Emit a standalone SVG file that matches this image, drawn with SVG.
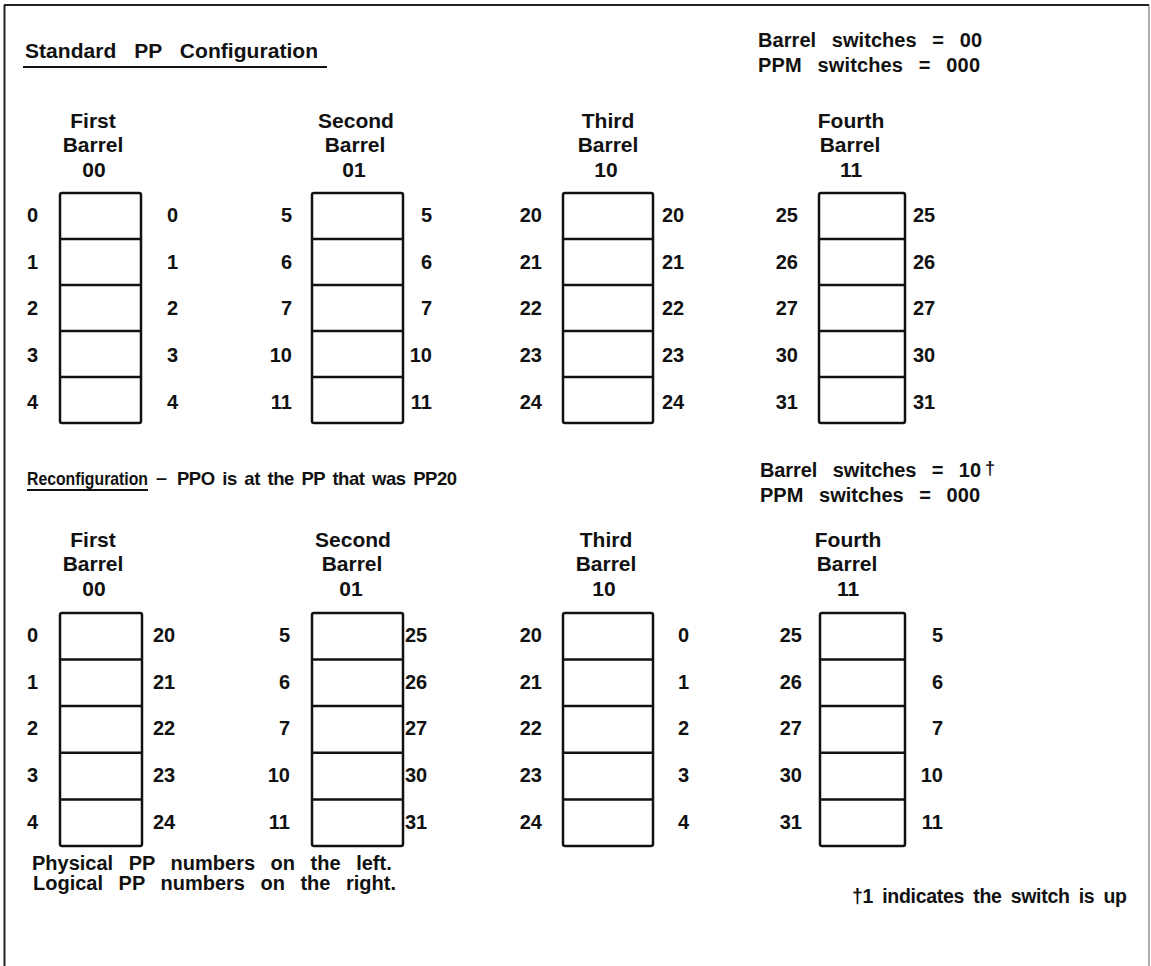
<svg xmlns="http://www.w3.org/2000/svg" width="1151" height="966" viewBox="0 0 1151 966">
<style>
text{font-family:"Liberation Sans",Arial,sans-serif;font-weight:bold;fill:#111}
.t{font-size:21px;word-spacing:12px}
.s{font-size:20px;word-spacing:10px}
.r{font-size:18.5px;word-spacing:3px}
.h{font-size:21px;text-anchor:middle}
.n{font-size:20px}
.e{text-anchor:end}
.note{font-size:20px;word-spacing:10px}
.box{fill:#fff;stroke:#111;stroke-width:2.5}
.div{stroke:#111;stroke-width:2.5}
.ul{stroke:#111;stroke-width:2}
</style>
<rect width="1151" height="966" fill="#fff"/>
<g id="frame" fill="none">
<line x1="4.5" y1="5" x2="4.5" y2="966" stroke="#222" stroke-width="2"/>
<line x1="4" y1="5" x2="1149" y2="5" stroke="#222" stroke-width="2"/>
<line x1="1149" y1="5" x2="1149" y2="966" stroke="#777" stroke-width="1.2"/>
</g>

<g id="top-header">
<text class="t" x="25" y="58" textLength="293" lengthAdjust="spacing">Standard PP Configuration</text>
<line class="ul" x1="23" y1="67" x2="327" y2="67"/>
<text class="s" x="758" y="47" textLength="224" lengthAdjust="spacing">Barrel switches = 00</text>
<text class="s" x="758" y="72" textLength="222" lengthAdjust="spacing">PPM switches = 000</text>
</g>

<g id="top-barrel-1">
<text class="h" x="93" y="128">First</text><text class="h" x="93" y="152">Barrel</text><text class="h" x="94" y="177">00</text>
<rect class="box" x="60" y="193" width="81" height="230" rx="2"/>
<path class="div" d="M60 239H141M60 285H141M60 331H141M60 377H141"/>
<g class="n"><text x="27" y="222">0</text><text x="27" y="268.5">1</text><text x="27" y="315">2</text><text x="27" y="361.5">3</text><text x="27" y="408.5">4</text>
<text x="167" y="222">0</text><text x="167" y="268.5">1</text><text x="167" y="315">2</text><text x="167" y="361.5">3</text><text x="167" y="408.5">4</text></g>
</g>

<g id="top-barrel-2">
<text class="h" x="356" y="128">Second</text><text class="h" x="355" y="152">Barrel</text><text class="h" x="354" y="177">01</text>
<rect class="box" x="312" y="193" width="91" height="230" rx="2"/>
<path class="div" d="M312 239H403M312 285H403M312 331H403M312 377H403"/>
<g class="n e"><text x="292" y="222">5</text><text x="292" y="268.5">6</text><text x="292" y="315">7</text><text x="292" y="361.5">10</text><text x="292" y="408.5">11</text>
<text x="432" y="222">5</text><text x="432" y="268.5">6</text><text x="432" y="315">7</text><text x="432" y="361.5">10</text><text x="432" y="408.5">11</text></g>
</g>

<g id="top-barrel-3">
<text class="h" x="608" y="128">Third</text><text class="h" x="608" y="152">Barrel</text><text class="h" x="606" y="177">10</text>
<rect class="box" x="563" y="193" width="90" height="230" rx="2"/>
<path class="div" d="M563 239H653M563 285H653M563 331H653M563 377H653"/>
<g class="n"><g class="e"><text x="542" y="222">20</text><text x="542" y="268.5">21</text><text x="542" y="315">22</text><text x="542" y="361.5">23</text><text x="542" y="408.5">24</text></g>
<text x="662" y="222">20</text><text x="662" y="268.5">21</text><text x="662" y="315">22</text><text x="662" y="361.5">23</text><text x="662" y="408.5">24</text></g>
</g>

<g id="top-barrel-4">
<text class="h" x="851" y="128">Fourth</text><text class="h" x="850" y="152">Barrel</text><text class="h" x="851" y="177">11</text>
<rect class="box" x="819" y="193" width="86" height="230" rx="2"/>
<path class="div" d="M819 239H905M819 285H905M819 331H905M819 377H905"/>
<g class="n"><g class="e"><text x="798" y="222">25</text><text x="798" y="268.5">26</text><text x="798" y="315">27</text><text x="798" y="361.5">30</text><text x="798" y="408.5">31</text></g>
<text x="913" y="222">25</text><text x="913" y="268.5">26</text><text x="913" y="315">27</text><text x="913" y="361.5">30</text><text x="913" y="408.5">31</text></g>
</g>

<g id="bottom-header">
<text x="0" y="0" transform="translate(27,485) scale(1,1.15)" style="font-size:16px" textLength="121" lengthAdjust="spacingAndGlyphs">Reconfiguration</text>
<line class="ul" x1="27" y1="490" x2="148" y2="490"/>
<text class="r" x="156" y="484" textLength="11" lengthAdjust="spacingAndGlyphs">–</text>
<text class="r" x="177" y="485" textLength="280" lengthAdjust="spacing">PPO is at the PP that was PP20</text>
<text class="s" x="760" y="477" textLength="221" lengthAdjust="spacing">Barrel switches = 10</text>
<text class="s" x="985" y="474" style="font-size:18px">†</text>
<text class="s" x="760" y="502" textLength="220" lengthAdjust="spacing">PPM switches = 000</text>
</g>

<g id="bottom-barrel-1">
<text class="h" x="93" y="547">First</text><text class="h" x="93" y="571">Barrel</text><text class="h" x="94" y="596">00</text>
<rect class="box" x="60" y="613" width="82" height="233" rx="2"/>
<path class="div" d="M60 659.6H142M60 706H142M60 752.8H142M60 799.4H142"/>
<g class="n"><text x="27" y="642">0</text><text x="27" y="688.5">1</text><text x="27" y="735">2</text><text x="27" y="782">3</text><text x="27" y="828.5">4</text>
<text x="153" y="642">20</text><text x="153" y="688.5">21</text><text x="153" y="735">22</text><text x="153" y="782">23</text><text x="153" y="828.5">24</text></g>
</g>

<g id="bottom-barrel-2">
<text class="h" x="353" y="547">Second</text><text class="h" x="352" y="571">Barrel</text><text class="h" x="351" y="596">01</text>
<rect class="box" x="312" y="613" width="91" height="233" rx="2"/>
<path class="div" d="M312 659.6H403M312 706H403M312 752.8H403M312 799.4H403"/>
<g class="n"><g class="e"><text x="290" y="642">5</text><text x="290" y="688.5">6</text><text x="290" y="735">7</text><text x="290" y="782">10</text><text x="290" y="828.5">11</text></g>
<text x="405" y="642">25</text><text x="405" y="688.5">26</text><text x="405" y="735">27</text><text x="405" y="782">30</text><text x="405" y="828.5">31</text></g>
</g>

<g id="bottom-barrel-3">
<text class="h" x="606" y="547">Third</text><text class="h" x="606" y="571">Barrel</text><text class="h" x="604" y="596">10</text>
<rect class="box" x="563" y="613" width="90" height="233" rx="2"/>
<path class="div" d="M563 659.6H653M563 706H653M563 752.8H653M563 799.4H653"/>
<g class="n e"><text x="542" y="642">20</text><text x="542" y="688.5">21</text><text x="542" y="735">22</text><text x="542" y="782">23</text><text x="542" y="828.5">24</text>
<text x="689" y="642">0</text><text x="689" y="688.5">1</text><text x="689" y="735">2</text><text x="689" y="782">3</text><text x="689" y="828.5">4</text></g>
</g>

<g id="bottom-barrel-4">
<text class="h" x="848" y="547">Fourth</text><text class="h" x="847" y="571">Barrel</text><text class="h" x="848" y="596">11</text>
<rect class="box" x="820" y="613" width="85" height="233" rx="2"/>
<path class="div" d="M820 659.6H905M820 706H905M820 752.8H905M820 799.4H905"/>
<g class="n e"><text x="802" y="642">25</text><text x="802" y="688.5">26</text><text x="802" y="735">27</text><text x="802" y="782">30</text><text x="802" y="828.5">31</text>
<text x="943" y="642">5</text><text x="943" y="688.5">6</text><text x="943" y="735">7</text><text x="943" y="782">10</text><text x="943" y="828.5">11</text></g>
</g>

<g id="notes">
<text class="note" x="32" y="870">Physical PP numbers on the left.</text>
<text class="note" x="33" y="890">Logical PP numbers on the right.</text>
<text class="note" x="852" y="903" style="font-size:19.5px;word-spacing:4px" textLength="275" lengthAdjust="spacing">†1 indicates the switch is up</text>
</g>
</svg>
